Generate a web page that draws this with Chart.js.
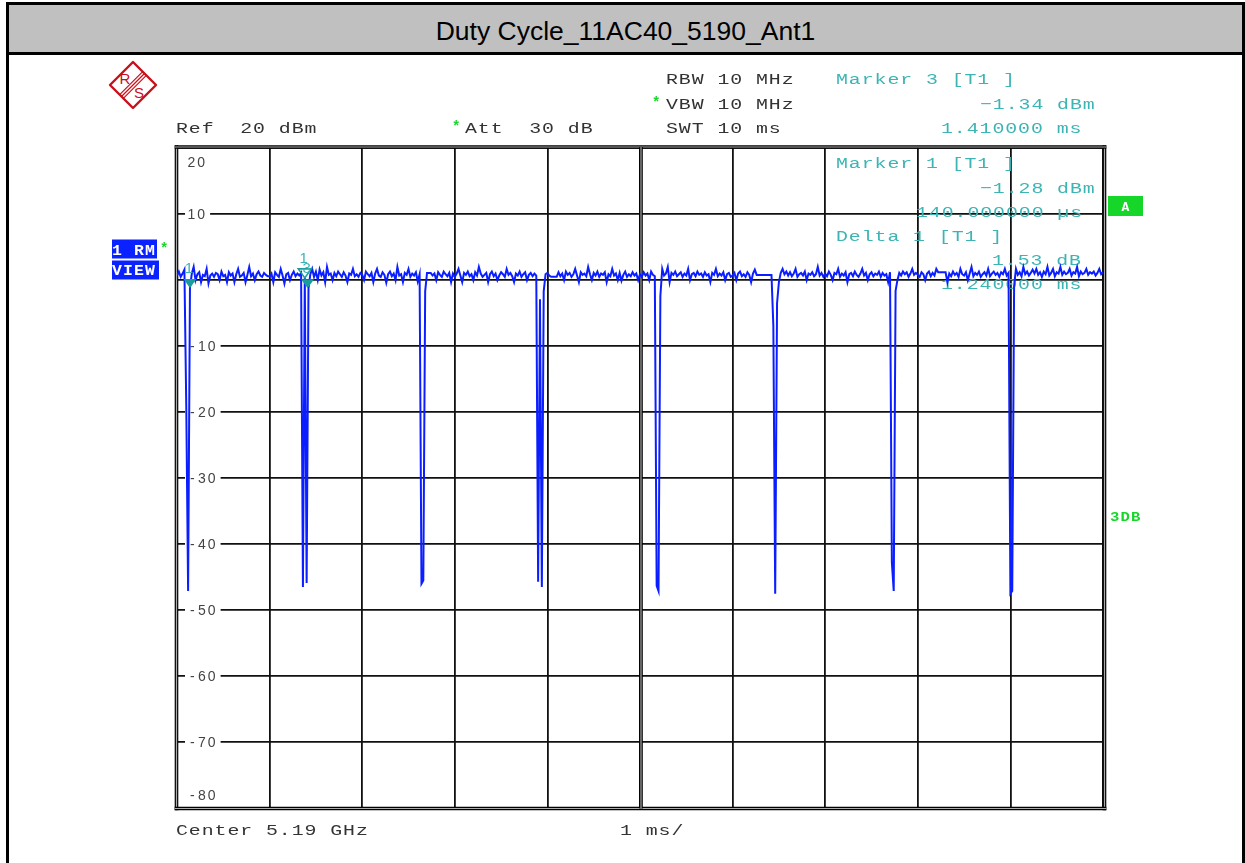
<!DOCTYPE html>
<html>
<head>
<meta charset="utf-8">
<script src="https://cdn.jsdelivr.net/npm/chart.js@4.4.1/dist/chart.umd.min.js"></script>
<style>
html, body { margin: 0; padding: 0; background: #fff; width: 1245px; height: 863px; overflow: hidden; }
#frame { position: absolute; left: 6px; top: 2px; width: 1233px; height: 861px; border-left: 3px solid #000; border-right: 3px solid #000; border-top: 3px solid #000; }
#title { position: absolute; left: 9px; top: 5px; width: 1233px; height: 47px; background: #c0c0c0; border-bottom: 3px solid #000;
  font: 26.5px "Liberation Sans", Arial, sans-serif; color: #000; text-align: center; line-height: 53px; }
#logo { position: absolute; left: 108px; top: 60px; }
#c { position: absolute; left: 0; top: 0; }
</style>
</head>
<body>
<div id="frame"></div>
<div id="title">Duty Cycle_11AC40_5190_Ant1</div>
<svg id="logo" width="50" height="50" viewBox="0 0 50 50">
  <defs><clipPath id="dc"><path d="M25 2 L48 25 L25 48 L2 25 Z"/></clipPath></defs>
  <path d="M25 2 L48 25 L25 48 L2 25 Z" fill="#fff" stroke="#c8101a" stroke-width="2.4" stroke-linejoin="round"/>
  <g clip-path="url(#dc)" stroke="#c8101a" stroke-width="1.2">
    <line x1="3.2" y1="43.2" x2="43.2" y2="3.2"/>
    <line x1="5" y1="45" x2="45" y2="5"/>
    <line x1="6.8" y1="46.8" x2="46.8" y2="6.8"/>
  </g>
  <text x="17" y="24" fill="#c8101a" font-family="Liberation Sans, Arial" font-size="15" text-anchor="middle">R</text>
  <text x="31" y="38" fill="#c8101a" font-family="Liberation Sans, Arial" font-size="15" text-anchor="middle">S</text>
</svg>
<canvas id="c" width="1245" height="863"></canvas>
<script>
// sweep: 10 ms, 1 ms/div, ref 20 dBm, 10 dB/div
const sweepMs = 10;
const yTickValues = [20, 10, 0, -10, -20, -30, -40, -50, -60, -70, -80];
const yTickLabels = ['20', '10', '', '-10', '-20', '-30', '-40', '-50', '-60', '-70', '-80'];

// trace levels in dBm, 501 sweep points (one line per ms division)
const traceLevels = [
  0.6, 1.2, 0.4, 0.9, 1.5, -19.0, -47.2, -1.28, 0.9, 1.9, -0.1, 0.8, 1.1, -0.4, 0.7, 0.5, 1.6, -0.6, 0.6, 0.9, 0.4, 1.0, 0.8, -0.1, 1.2, 0.5, 0.7, -0.4, 1.1, 0.6, 0.9, -0.4, 0.8, 1.6, 0.4, 0.6, 1.0, -0.4, 0.7, 1.9, 0.5, 0.9, -0.1, 0.8, 1.2, 0.6, 0.4, 1.0, 0.7, 0.5,
  0.5, 0.9, -0.4, 1.1, 0.7, 0.4, 1.6, 0.6, -0.6, 0.8, 1.0, -0.1, 0.7, 1.2, 0.5, 0.9, 0.6, 1.0, -46.6, 0.25, -46.0, -1.34, 0.8, 1.6, 0.4, 1.2, -0.1, 1.5, 0.6, 1.1, -0.4, 1.9, 0.7, 0.9, -0.1, 1.0, 0.5, 1.2, 0.8, 0.4, 1.1, 0.6, -0.4, 0.9, 0.7, 1.6, 0.5, 0.8, 0.4, 1.0,
  0.7, -0.1, 1.2, 0.8, 0.5, 1.0, -0.4, 0.9, 1.6, 0.6, 0.4, 1.1, 0.7, -0.5, 0.8, 1.2, 0.5, 0.9, -0.1, 1.9, 0.6, 0.8, -0.4, 1.0, 0.7, 1.6, 0.4, 0.9, 0.6, 1.1, -0.3, 0.8, -46.1, -45.6, -1.8, 1.0, 1.0, 1.0, 0.6, 0.9, -0.1, 1.1, 0.7, 0.4, 1.2, 0.8, 0.5, 1.0, -0.4, 0.9,
  0.4, 0.9, 1.6, 0.6, -0.4, 1.0, 0.7, 1.2, 0.5, 0.8, -0.1, 1.1, 0.6, 1.9, 0.9, 0.4, 0.7, 1.0, -0.4, 0.8, 1.2, 0.5, 0.9, -0.1, 0.6, 1.1, 0.8, 0.4, 1.6, 0.7, 1.0, 0.5, -0.4, 0.9, 0.6, 1.2, 0.4, 0.8, 1.1, -0.1, 0.7, 1.0, 0.5, 0.9, 0.6, -45.8, -3.0, -46.6, -1.8, 0.8,
  1.0, 0.6, 0.4, 0.4, 0.4, 0.4, 1.1, 0.5, 0.9, -0.1, 1.2, 0.7, 1.0, 0.4, 0.8, 1.6, 0.6, -0.4, 1.1, 0.7, 0.9, 0.5, 1.9, 0.8, -0.1, 1.0, 0.6, 1.2, 0.4, 0.9, 0.7, 1.1, -0.4, 0.8, 0.5, 1.6, 0.6, 0.9, -0.1, 1.0, -0.2, 0.7, 1.2, 0.4, 0.8, 0.5, 1.1, 0.6, 0.9, -0.1,
  0.8, 0.4, 1.1, 0.6, 0.9, -0.1, 1.2, 0.7, 0.5, -46.4, -47.2, -2.5, 1.6, 0.6, 0.9, 1.9, -0.4, 1.0, 0.7, 1.2, 0.5, 0.8, 1.1, 0.4, 0.9, 0.6, 1.6, -0.1, 0.8, 1.0, 0.5, 1.2, 0.7, 0.9, 0.4, 1.1, 0.6, 0.8, -0.4, 1.0, 0.7, 1.6, 0.5, 0.9, 0.6, 1.1, -0.1, 0.8, 1.0, 0.4,
  0.6, 1.0, -0.1, 0.9, 1.2, 0.5, 0.8, 0.4, 1.1, 0.7, -0.4, 0.9, 1.5, 0.7, 0.7, 0.7, 0.7, 0.7, 0.7, 0.7, 0.7, 0.7, -7.0, -47.6, -3.6, -0.4, 1.0, 1.6, 0.8, 1.2, 0.6, 1.1, 0.5, 0.9, 1.6, 0.4, 0.8, 1.0, 0.6, 1.2, -0.1, 0.9, 0.7, 1.1, 0.5, 0.8, 1.9, 0.6, 1.0, 0.4,
  0.9, 0.5, 1.2, 0.7, -0.1, 1.0, 0.8, 1.6, 0.4, 0.9, 0.6, 1.1, -0.4, 0.8, 1.0, 0.5, 1.2, 0.7, 0.4, 0.9, 1.6, 0.6, 1.0, -0.1, 0.8, 1.1, 0.5, 0.9, 0.7, 1.2, 0.4, 1.0, 0.6, 0.8, -0.4, 1.1, -42.9, -47.2, -1.7, -0.1, 1.0, 0.6, 1.2, 0.8, 1.1, 0.4, 0.9, 1.6, 0.7, 1.0,
  0.7, 0.4, 1.1, 0.8, -0.1, 0.9, 1.2, 0.5, 1.0, 0.6, 1.6, 1.1, 1.1, 1.1, 1.1, 1.1, -0.4, 0.9, 0.5, 1.2, 0.7, 1.0, 0.4, 1.6, 0.8, 0.6, 1.1, -0.1, 0.9, 1.9, 0.5, 1.0, 0.7, 1.2, 0.4, 0.8, 1.1, 0.6, 1.6, 0.5, 0.9, 1.2, 0.7, 1.0, 0.4, 1.1, 0.8, 1.6, 0.6, 1.0,
  -47.6, -47.2, -1.0, 1.6, 0.7, 1.1, 0.5, 1.9, 0.8, 1.2, 0.6, 1.0, 1.5, 0.9, 1.6, 0.7, 1.1, 0.4, 1.2, 0.8, 1.9, 0.6, 1.0, 1.6, 0.5, 1.1, 0.9, 1.9, 0.7, 1.2, 0.8, 1.0, 1.6, 0.6, 1.1, 0.9, 1.9, 0.5, 1.2, 0.8, 1.0, 1.6, 0.7, 1.1, 0.9, 1.2, 0.6, 1.0, 1.6, 0.8, 1.1
];

// markers: M1, delta marker 2, M3
const markerTimes = [0.14, 1.38, 1.41];
const markerLevels = [-1.28, 0.25, -1.34];
const markerLabels = ['1', '1', '3'];

const teal = '#3cb4b4';
const green = '#16d62a';

// draw text one char at a time on a fixed pitch (instrument font), optionally stretched
function spaced(ctx, text, x, y, pitch, sx = 1) {
  for (let i = 0; i < text.length; i++) {
    ctx.save();
    ctx.translate(x + i * pitch, y);
    ctx.scale(sx, 1);
    ctx.fillText(text[i], 0, 0);
    ctx.restore();
  }
}

function doubleLine(ctx, x1, y1, x2, y2) {
  ctx.beginPath(); ctx.moveTo(x1, y1); ctx.lineTo(x2, y2);
  ctx.strokeStyle = '#000'; ctx.lineWidth = 3.6; ctx.stroke();
  ctx.beginPath(); ctx.moveTo(x1, y1); ctx.lineTo(x2, y2);
  ctx.strokeStyle = '#aaa'; ctx.lineWidth = 1.2; ctx.stroke();
}

const overlay = {
  id: 'overlay',
  beforeDatasetsDraw(chart) {
    const ctx = chart.ctx, a = chart.chartArea, xs = chart.scales.x, ys = chart.scales.y;
    ctx.save();

    // frame + centre line
    const l = a.left - 0.5, r = a.right + 1.5, t = a.top - 0.5, b = a.bottom + 1;
    doubleLine(ctx, l, t - 1.8, l, b + 1.8);
    doubleLine(ctx, r, t - 1.8, r, b + 1.8);
    doubleLine(ctx, l - 1.8, t, r + 1.8, t);
    doubleLine(ctx, l - 1.8, b, r + 1.8, b);
    const xc = xs.getPixelForValue(sweepMs / 2) + 1;
    doubleLine(ctx, xc, t, xc, b);

    // y labels, inside the grid
    ctx.font = '14px "Liberation Sans", Arial, sans-serif';
    ctx.textAlign = 'left';
    yTickValues.forEach((v, i) => {
      const lab = yTickLabels[i];
      if (!lab) return;
      const y = ys.getPixelForValue(v);
      const neg = lab[0] === '-';
      const digits = neg ? lab.slice(1) : lab;
      const dx = neg ? 198 : 187.5;
      let base;
      if (i === 0) base = y + 19;
      else if (i === yTickValues.length - 1) base = y - 7.5;
      else {
        ctx.fillStyle = '#fff';
        ctx.fillRect(185, y - 6, dx - 185 + digits.length * 9.8 + 3, 12);
        base = y + 5;
      }
      ctx.fillStyle = '#444';
      if (neg) ctx.fillText('-', 190, base);
      spaced(ctx, digits, dx, base, 9.8);
    });

    // header settings
    ctx.textBaseline = 'alphabetic';
    ctx.font = '15.5px "Liberation Mono", monospace';
    ctx.fillStyle = '#333';
    const p = 12.85, sx = 1.28;
    spaced(ctx, 'RBW 10 MHz', 666, 84, p, sx);
    spaced(ctx, 'VBW 10 MHz', 666, 109, p, sx);
    spaced(ctx, 'Ref  20 dBm', 176, 133, p, sx);
    spaced(ctx, 'Att  30 dB', 465, 133, p, sx);
    spaced(ctx, 'SWT 10 ms', 666, 133, p, sx);
    spaced(ctx, 'Center 5.19 GHz', 176, 835, p, sx);
    spaced(ctx, '1 ms/', 620, 835, p, sx);

    ctx.fillStyle = green;
    ctx.font = 'bold 14px "Liberation Mono", monospace';
    ctx.fillText('*', 652, 107);
    ctx.fillText('*', 452, 131);
    ctx.fillText('*', 160, 253);

    // marker readouts
    ctx.font = '15.5px "Liberation Mono", monospace';
    ctx.fillStyle = teal;
    spaced(ctx, 'Marker 3 [T1 ]', 836, 84, p, sx);
    spaced(ctx, '\u22121.34 dBm', 980, 109, p, sx);
    spaced(ctx, '1.410000 ms', 941, 133, p, sx);
    spaced(ctx, 'Marker 1 [T1 ]', 836, 168, p, sx);
    spaced(ctx, '\u22121.28 dBm', 980, 192.5, p, sx);
    spaced(ctx, '140.000000 \u00b5s', 916, 217, p, sx);
    spaced(ctx, 'Delta 1 [T1 ]', 836, 241, p, sx);
    spaced(ctx, '1.53 dB', 992, 265, p, sx);
    spaced(ctx, '1.240000 ms', 941, 289, p, sx);

    // trace badges
    ctx.fillStyle = '#0a22ff';
    ctx.fillRect(112, 239.5, 45, 19);
    ctx.fillRect(112, 260.5, 47, 19);
    ctx.fillStyle = green;
    ctx.fillRect(1108, 196, 35, 20);
    ctx.font = 'bold 15px "Liberation Mono", monospace';
    ctx.fillStyle = '#fff';
    spaced(ctx, '1 RM', 112, 255, 11, 1.1);
    spaced(ctx, 'VIEW', 112, 275, 11, 1.1);
    ctx.font = 'bold 13px "Liberation Mono", monospace';
    ctx.textAlign = 'center';
    ctx.fillText('A', 1125.5, 211);
    ctx.textAlign = 'left';
    ctx.fillStyle = green;
    ctx.font = 'bold 13px "Liberation Mono", monospace';
    spaced(ctx, '3DB', 1110, 521, 10.5, 1.2);

    ctx.restore();
  },
  afterDatasetsDraw(chart) {
    const ctx = chart.ctx, xs = chart.scales.x, ys = chart.scales.y;
    ctx.save();
    ctx.textAlign = 'center';
    ctx.font = '15px "Liberation Sans", Arial, sans-serif';
    markerTimes.forEach((t, i) => {
      const x = xs.getPixelForValue(t), y = ys.getPixelForValue(markerLevels[i]);
      ctx.beginPath();
      ctx.moveTo(x, y); ctx.lineTo(x - 6.5, y - 9); ctx.lineTo(x + 6.5, y - 9); ctx.closePath();
      if (i === 1) {
        ctx.strokeStyle = '#1a9c9c'; ctx.lineWidth = 1.6; ctx.stroke();
      } else {
        ctx.fillStyle = '#1a9c9c'; ctx.fill();
      }
      ctx.fillStyle = teal;
      ctx.fillText(markerLabels[i], x - 1, y - 15);
    });
    ctx.restore();
  }
};

const points = traceLevels.map((v, i) => ({ x: i * sweepMs / (traceLevels.length - 1), y: v }));

const gridStyle = { color: '#111', lineWidth: 1.8, drawTicks: false };

new Chart(document.getElementById('c'), {
  type: 'line',
  data: {
    datasets: [{
      data: points,
      borderColor: '#0a1eff',
      borderWidth: 2,
      pointRadius: 0,
      tension: 0,
      fill: false
    }]
  },
  options: {
    responsive: false,
    animation: false,
    events: [],
    layout: { padding: { left: 177, top: 147.5, right: 142, bottom: 55.5 } },
    plugins: { legend: { display: false }, tooltip: { enabled: false } },
    scales: {
      x: {
        type: 'linear', min: 0, max: sweepMs,
        ticks: { display: false, stepSize: 1 },
        grid: gridStyle,
        border: { display: false }
      },
      y: {
        min: -80, max: 20,
        ticks: { display: false, stepSize: 10 },
        grid: gridStyle,
        border: { display: false }
      }
    }
  },
  plugins: [overlay]
});
</script>
</body>
</html>
